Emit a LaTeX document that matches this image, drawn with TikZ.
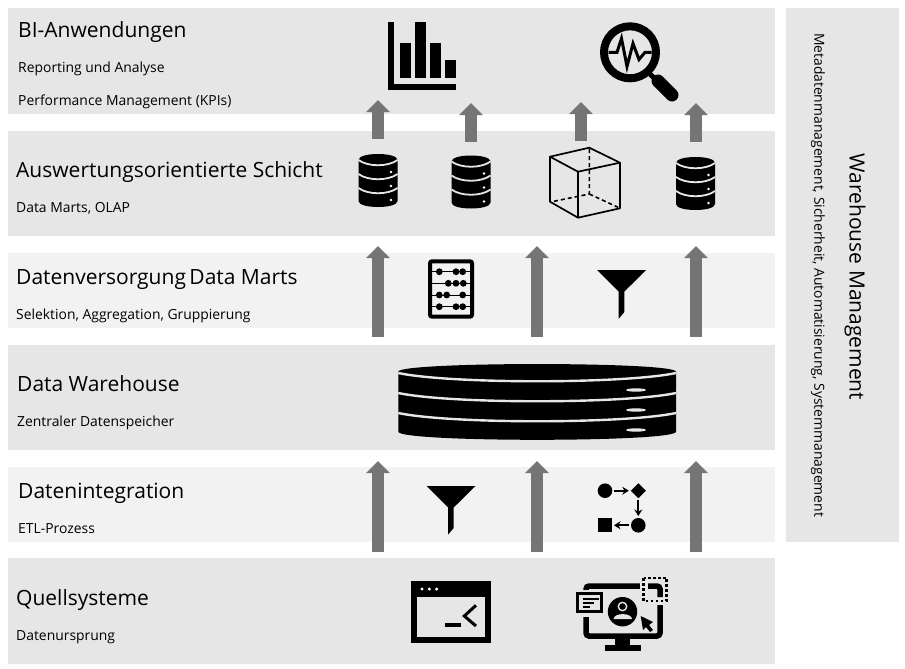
\documentclass[tikz,border=0pt]{standalone}
\usepackage{fontspec}
\setmainfont{Open Sans}
\usetikzlibrary{arrows.meta,shapes.geometric}
\definecolor{paneldark}{HTML}{E6E6E6}
\definecolor{panellight}{HTML}{F2F2F2}
\definecolor{arrowgray}{HTML}{757575}
\tikzset{
	panel/.style={anchor=north west,inner sep=0pt,outer sep=0pt,fill=paneldark},
	title/.style={anchor=base west,inner sep=0pt,font=\fontsize{21}{24}\selectfont},
	subtitle/.style={anchor=base west,inner sep=0pt,font=\fontsize{13.9}{16}\selectfont},
	uparrow/.style={line width=12pt,draw=arrowgray,-{Triangle[width=23pt,length=12pt]}},
	flowarrow/.style={line width=2pt,-{Stealth[length=6.5pt,width=8pt]},shorten >=2pt,shorten <=2pt},
	flownode/.style={fill=black,inner sep=0pt,outer sep=0pt},
	pics/dbicon/.style={code={
		\fill (-19.5,6) .. controls (-19.5,-2) and (19.5,-2) .. (19.5,6) -- (19.5,47)
			.. controls (19.5,55) and (-19.5,55) .. (-19.5,47) -- cycle;
		\foreach \y in {6,20,34} {
			\draw[paneldark,line width=1.8pt] (-19.5,\y) .. controls (-10,\y+7) and (10,\y+7) .. (19.5,\y);
			\fill[white] (13,\y+12) circle (1.3);
		}
	}},
	pics/funnelicon/.style={code={
		\fill (-24.5,0) -- (24.5,0) -- (2.7,21.5) -- (2.7,42) -- (-3,48.7) -- (-3,21.5) -- cycle;
	}},
}
\begin{document}
\begin{tikzpicture}[x=1pt,y=-1pt]
	\useasboundingbox (0,0) rectangle (905,669);

	% Schichten
	\node[panel,minimum width=767pt,minimum height=106pt] (bi) at (8,8) {};
	\node[panel,minimum width=767pt,minimum height=105pt] (olap) at (8,131) {};
	\node[panel,fill=panellight,minimum width=767pt,minimum height=75pt] (marts) at (8,253) {};
	\node[panel,minimum width=767pt,minimum height=105pt] (dwh) at (8,345) {};
	\node[panel,fill=panellight,minimum width=767pt,minimum height=75pt] (etl) at (8,467) {};
	\node[panel,minimum width=767pt,minimum height=106pt] (quellen) at (8,558) {};
	\node[panel,minimum width=113pt,minimum height=534pt] (mgmt) at (786,8) {};

	% Texte
	\node[title] (biT) at (18,38) {BI-Anwendungen};
	\node[subtitle] (biA) at (18,73) {Reporting und Analyse};
	\node[subtitle] (biB) at (18,106) {Performance Management (KPIs)};
	\node[title] (olapT) at (16,177) {Auswertungsorientierte Schicht};
	\node[subtitle] (olapA) at (16,212) {Data Marts, OLAP};
	\node[title] (martsT) at (16,284) {Datenversorgung\kern-2pt{} Data Marts};
	\node[subtitle] (martsA) at (16,319) {Selektion, Aggregation, Gruppierung};
	\node[title] (dwhT) at (17,391) {Data Warehouse};
	\node[subtitle] (dwhA) at (17,426) {Zentraler Datenspeicher};
	\node[title] (etlT) at (18,498) {Datenintegration};
	\node[subtitle] (etlA) at (18,533) {ETL-Prozess};
	\node[title] (quellenT) at (16,605) {Quellsysteme};
	\node[subtitle] (quellenA) at (16,640) {Datenursprung};
	\node[title,anchor=center,rotate=-90] (mgmtT) at (855,277) {Warehouse Management};
	\node[subtitle,anchor=center,rotate=-90] (mgmtA) at (818,275) {Metadatenmanagement, Sicherheit, Automatisierung, Systemmanagement};

	% Pfeile
	\foreach \name/\x/\t/\b in {a/378/100/139,b/471/103/142,c/581/102/141,d/696/103/142,
		e/378/246/337,f/537/246/337,g/696/246/337,h/378/461/552,i/537/461/552,j/696/461/552} {
		\coordinate (\name0) at (\x,\b);
		\coordinate (\name1) at (\x,\t);
		\draw[uparrow] (\name0) -- (\name1);
	}

	% Balkendiagramm
	\fill (388,22) rectangle (394,90);
	\fill (388,84) rectangle (456,90);
	\fill (400,43) rectangle (411,78);
	\fill (415,22) rectangle (426,78);
	\fill (430,43) rectangle (441,78);
	\fill (445,60) rectangle (456,78);

	% Lupe
	\draw[line width=8pt] (630,52.3) circle (26);
	\draw[line width=3pt] (608.5,52.3) -- (617,52.3) -- (621.5,38.5) -- (627,66.5) -- (633,43.5) -- (639,59.5) -- (645,52.3) -- (651.5,52.3);
	\draw[line width=5pt] (650,74) -- (658,82);
	\draw[line width=13pt,line cap=round] (658,81) -- (672,95);

	% Datenbanken und Wuerfel
	\pic (db1) at (378,154) {dbicon};
	\pic (db2) at (471,155.5) {dbicon};
	\pic (db3) at (695.5,157) {dbicon};
	\draw[line width=1.7pt,line join=round] (550,156.7) -- (589.3,147.7) -- (620,162.7) -- (578,171.7) -- cycle;
	\draw[line width=1.7pt,line join=round] (550,156.7) -- (550,201.7) -- (578,217.7) -- (620,208.3) -- (620,162.7);
	\draw[line width=1.7pt] (578,171.7) -- (578,217.7);
	\draw[line width=1.6pt,dash pattern=on 4pt off 3pt] (589.3,149) -- (589.3,194) -- (552,201.7);
	\draw[line width=1.6pt,dash pattern=on 4pt off 3pt] (589.3,194) -- (618,207.3);

	% Abakus
	\draw[line width=4pt,rounded corners=2pt] (430,261.3) rectangle (472,316.7);
	\foreach \y/\p/\q/\r in {271.7/439.3/456/462.7,283.3/448.3/456/463.3,295/439.3/446.7/462.7,306.7/439.3/456/462.7} {
		\draw[line width=1pt] (430,\y) -- (472,\y);
		\fill (\p,\y) circle (3.4);
		\fill (\q,\y) circle (3.4);
		\fill (\r,\y) circle (3.4);
	}

	% Trichter
	\pic (funnel1) at (621.7,270) {funnelicon};
	\pic (funnel2) at (451,486) {funnelicon};

	% Data Warehouse
	\fill (398.3,371.7) .. controls (398.3,361.5) and (676,361.5) .. (676,371.7) -- (676,431.7)
		.. controls (676,442.5) and (398.3,442.5) .. (398.3,431.7) -- cycle;
	\foreach \y in {373,393,413} {
		\draw[paneldark,line width=2.4pt] (398.3,\y) .. controls (450,\y+11) and (624,\y+11) .. (676,\y);
		\fill[paneldark] (636,\y+17) ellipse (10 and 1.7);
	}

	% Prozess
	\node[flownode,circle,minimum size=14.6pt] (p1) at (605,490.7) {};
	\node[flownode,diamond,minimum size=15pt] (p2) at (638.3,490.7) {};
	\node[flownode,circle,minimum size=14.6pt] (p3) at (638.3,525.3) {};
	\node[flownode,minimum size=14pt] (p4) at (605,525.3) {};
	\draw[flowarrow] (p1) -- (p2);
	\draw[flowarrow] (p2) -- (p3);
	\draw[flowarrow] (p3) -- (p4);

	% Terminal
	\fill (411,581) rectangle (491,643);
	\fill[paneldark] (417,597) rectangle (485,637);
	\foreach \x in {422,429.3,436.7}
		\fill[white] (\x,589) circle (1.7);
	\draw[line width=4pt] (445,624.7) -- (461,624.7);
	\draw[line width=3pt] (476,605.3) -- (464.3,616) -- (476,626);

	% Monitor
	\draw[line width=5.5pt,rounded corners=3pt] (586,586) rectangle (660,636);
	\fill (615,638) rectangle (630,646);
	\fill (605,645) rectangle (641,650.7);
	\fill[paneldark] (572,590) rectangle (606,616.7);
	\fill[paneldark] (639.5,574) rectangle (670,605);
	\draw[line width=5.5pt,rounded corners=3pt] (648,586) -- (660,586) -- (660,597);
	\draw[line width=2.6pt,dash pattern=on 2.6pt off 2.4pt] (643.5,578) rectangle (666.5,601);
	\draw[line width=2.6pt] (577.3,593.6) rectangle (601.4,611.4);
	\draw[line width=2pt] (582.7,598.5) -- (599,598.5);
	\draw[line width=2pt] (582.7,603) -- (594,603);
	\draw[line width=2pt] (582.7,607) -- (590,607);
	\fill (622.5,611.7) circle (14.7);
	\draw[paneldark,line width=1.4pt] (622.5,606.5) circle (4.2);
	\fill[paneldark] (613.5,619) .. controls (614,612.5) and (631.5,612.5) .. (632,619) -- cycle;
	\fill (640.7,616) -- (653,622) -- (649,625) -- (653,630) -- (650,632) -- (646,627) -- (643,630) -- cycle;
\end{tikzpicture}
\end{document}
